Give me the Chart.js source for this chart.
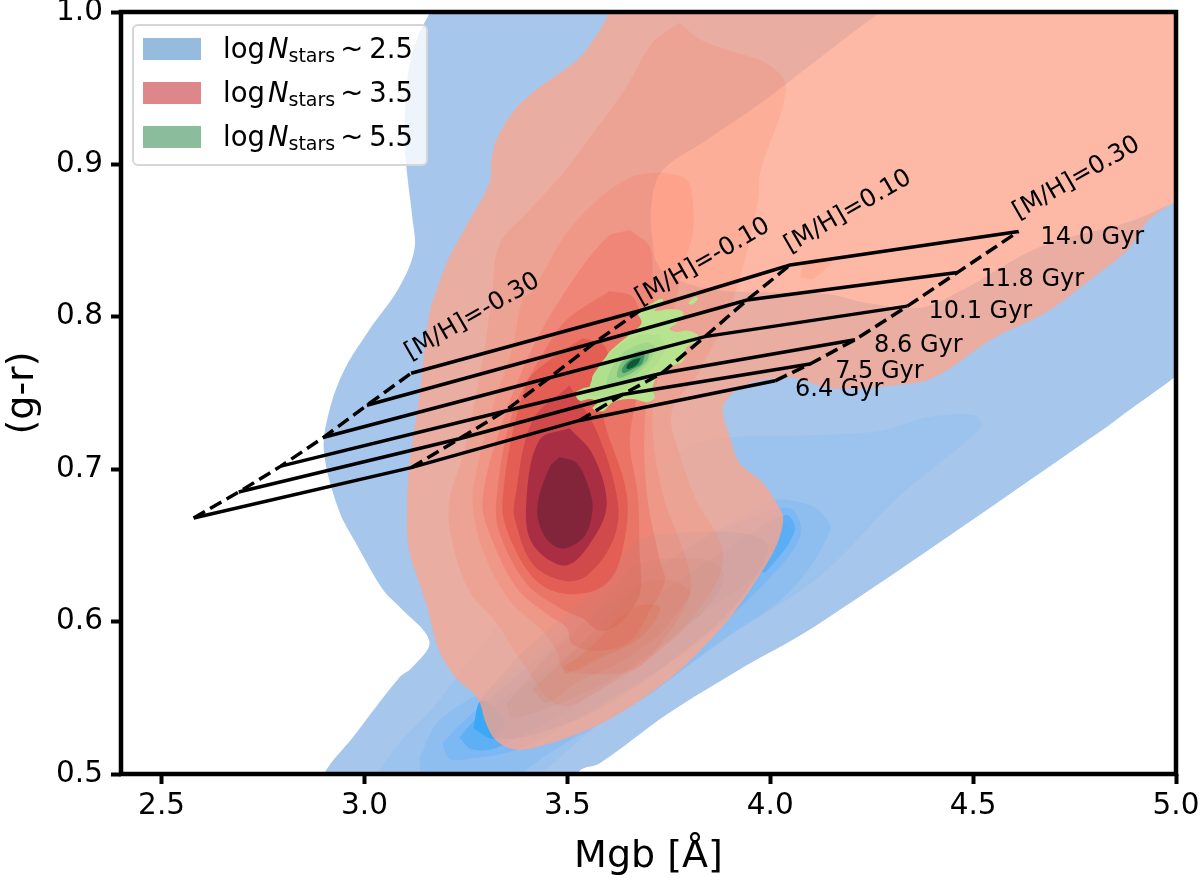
<!DOCTYPE html>
<html>
<head>
<meta charset="utf-8">
<title>Mgb vs g-r</title>
<script src="https://cdn.jsdelivr.net/npm/chart.js@4"></script>
<style>
  html, body { margin: 0; background: #fff; }
  canvas { display: block; }
</style>
</head>
<body>
<canvas id="chart" width="1200" height="880"></canvas>
<script>
// axis ticks
const xTicks = [2.5, 3.0, 3.5, 4.0, 4.5, 5.0];
const yTicks = [0.5, 0.6, 0.7, 0.8, 0.9, 1.0];

// density contours as [Mgb, g-r] outlines, lowest level first
const blueBase = [[3.172,1.008],[3.160,.999],[3.135,.986],[3.110,.964],[3.098,.920],[3.105,.894],[3.118,.865],[3.123,.844],[3.085,.819],[3.011,.791],[2.950,.765],[2.913,.738],[2.900,.712],[2.937,.673],[2.982,.650],[3.048,.620],[3.085,.610],[3.160,.587],[3.118,.570],[3.085,.563],[2.974,.525],[2.900,.500],[2.900,.489],[3.518,.489],[3.530,.502],[3.580,.507],[3.745,.539],[3.908,.566],[4.123,.599],[4.815,.725],[4.881,.738],[4.995,.760],[5.062,.775],[5.062,.883],[4.995,.875],[4.881,.862],[4.666,.846],[4.469,.817],[4.370,.806],[4.239,.809],[4.140,.815],[3.893,.817],[3.794,.822],[3.728,.832],[3.710,.850],[3.708,.876],[3.735,.896],[3.844,.916],[3.975,.940],[4.074,.960],[4.271,1.0],[4.321,1.008]];
const blueLevel2 = [[3.006,.490],[3.085,.520],[3.167,.543],[3.226,.563],[3.382,.614],[3.530,.653],[3.678,.693],[3.802,.715],[3.901,.721],[4.074,.722],[4.271,.725],[4.387,.734],[4.506,.735],[4.518,.727],[4.321,.683],[4.123,.630],[3.908,.592],[3.745,.561],[3.580,.533],[3.357,.490]];
const blueLevel3 = [[3.135,.510],[3.152,.490],[3.308,.490],[3.481,.518],[3.678,.548],[3.876,.587],[4.049,.620],[4.148,.660],[4.128,.671],[4.091,.677],[4.000,.679],[3.827,.653],[3.580,.614],[3.333,.561],[3.184,.535]];
const blueLevel4 = [[3.192,.520],[3.209,.510],[3.258,.510],[3.375,.516],[3.580,.545],[3.827,.587],[3.992,.627],[4.074,.656],[4.056,.673],[4.000,.673],[3.827,.653],[3.580,.607],[3.333,.555],[3.234,.532]];
const blueLevel5 = [[3.234,.524],[3.266,.516],[3.333,.518],[3.580,.555],[3.827,.604],[4.000,.637],[4.061,.660],[4.037,.670],[3.925,.653],[3.703,.614],[3.407,.561],[3.283,.538]];
const blueCoreLow = [[3.268,.530],[3.320,.523],[3.345,.535],[3.288,.548]];
const blueCoreHigh = [[4.037,.665],[4.056,.658],[3.987,.632],[3.980,.637],[4.012,.653]];

const redOuter = [[3.641,1.008],[3.604,.999],[3.580,.988],[3.530,.970],[3.481,.960],[3.414,.947],[3.365,.934],[3.325,.916],[3.313,.903],[3.308,.888],[3.258,.863],[3.209,.839],[3.184,.822],[3.160,.802],[3.135,.747],[3.110,.701],[3.105,.671],[3.110,.647],[3.152,.612],[3.184,.581],[3.226,.563],[3.278,.550],[3.300,.533],[3.325,.522],[3.375,.516],[3.456,.520],[3.597,.535],[3.745,.561],[3.827,.581],[3.908,.605],[3.975,.631],[4.017,.651],[4.032,.668],[4.017,.677],[3.982,.691],[3.925,.704],[3.901,.721],[3.883,.740],[3.908,.750],[3.943,.756],[4.017,.760],[4.056,.760],[4.155,.753],[4.303,.755],[4.402,.760],[4.550,.786],[4.674,.802],[4.797,.826],[4.881,.844],[4.931,.863],[4.995,.875],[5.062,.883],[5.062,1.008]];
const redSpur = [[4.074,.826],[4.106,.825],[4.153,.838],[4.086,.836]];
const redLevel2 = [[3.777,.993],[3.827,.982],[3.908,.974],[3.992,.966],[4.039,.951],[3.975,.894],[3.970,.876],[3.908,.811],[3.827,.765],[3.757,.737],[3.777,.710],[3.819,.679],[3.876,.653],[3.881,.635],[3.827,.609],[3.728,.581],[3.580,.555],[3.481,.545],[3.382,.576],[3.325,.599],[3.258,.620],[3.216,.653],[3.209,.679],[3.246,.712],[3.295,.778],[3.315,.817],[3.333,.848],[3.399,.868],[3.488,.894],[3.562,.920],[3.646,.951],[3.710,.980]];
const redLevel3 = [[3.728,.895],[3.794,.890],[3.809,.876],[3.809,.855],[3.785,.832],[3.748,.784],[3.710,.737],[3.735,.684],[3.794,.640],[3.802,.618],[3.735,.587],[3.661,.568],[3.538,.566],[3.488,.570],[3.473,.581],[3.439,.594],[3.357,.614],[3.291,.647],[3.266,.679],[3.276,.699],[3.315,.740],[3.365,.780],[3.389,.811],[3.414,.817],[3.498,.855],[3.580,.878],[3.661,.892]];
const redLevel4 = [[3.654,.857],[3.703,.846],[3.710,.826],[3.715,.784],[3.691,.732],[3.696,.684],[3.728,.640],[3.740,.627],[3.703,.607],[3.654,.587],[3.580,.581],[3.513,.585],[3.498,.596],[3.449,.605],[3.375,.622],[3.308,.658],[3.291,.679],[3.325,.719],[3.399,.771],[3.481,.811],[3.597,.852]];
const redLevel5 = [[3.604,.817],[3.661,.813],[3.683,.794],[3.678,.758],[3.654,.719],[3.673,.684],[3.678,.647],[3.678,.618],[3.629,.599],[3.580,.594],[3.538,.602],[3.481,.609],[3.399,.625],[3.333,.658],[3.325,.679],[3.365,.737],[3.449,.780],[3.498,.798]];
const redLevel6 = [[3.538,.786],[3.592,.781],[3.604,.758],[3.587,.737],[3.646,.684],[3.636,.647],[3.597,.625],[3.513,.618],[3.431,.625],[3.365,.651],[3.340,.679],[3.399,.756],[3.463,.773]];
const redLevel7 = [[3.505,.755],[3.572,.725],[3.624,.679],[3.612,.653],[3.547,.630],[3.488,.627],[3.414,.638],[3.370,.668],[3.370,.679],[3.414,.732]];
const redLevel8 = [[3.505,.727],[3.562,.710],[3.597,.679],[3.572,.658],[3.498,.637],[3.414,.651],[3.399,.679],[3.431,.719]];
const redLevel9 = [[3.481,.708],[3.523,.704],[3.555,.686],[3.562,.673],[3.542,.656],[3.488,.648],[3.444,.656],[3.426,.675],[3.456,.701]];

// the blue ridge showing through the red fill
const ridgeA = [[3.283,.548],[3.375,.576],[3.498,.605],[3.612,.631],[3.671,.653],[3.777,.658],[3.933,.658],[3.992,.651],[3.982,.638],[3.908,.609],[3.809,.585],[3.661,.556],[3.498,.533],[3.320,.524]];
const ridgeB = [[3.350,.546],[3.439,.574],[3.513,.592],[3.612,.620],[3.678,.638],[3.832,.641],[3.883,.633],[3.869,.618],[3.785,.594],[3.661,.570],[3.498,.548],[3.365,.537]];
const ridgeC = [[3.414,.556],[3.481,.572],[3.597,.602],[3.686,.625],[3.760,.627],[3.802,.620],[3.794,.614],[3.728,.592],[3.622,.572],[3.530,.561],[3.449,.547]];
const ridgeD = [[3.488,.570],[3.547,.581],[3.661,.609],[3.728,.609],[3.678,.589],[3.580,.576],[3.498,.566]];

const greenOuter = [[3.673,.802],[3.691,.806],[3.710,.809],[3.733,.812],[3.735,.809],[3.715,.804],[3.752,.805],[3.782,.804],[3.785,.801],[3.770,.796],[3.752,.792],[3.770,.790],[3.794,.791],[3.822,.788],[3.819,.784],[3.794,.780],[3.785,.771],[3.760,.768],[3.728,.763],[3.710,.754],[3.715,.747],[3.696,.744],[3.661,.746],[3.612,.744],[3.587,.738],[3.562,.740],[3.575,.744],[3.555,.746],[3.530,.745],[3.520,.750],[3.538,.753],[3.560,.755],[3.562,.761],[3.587,.770],[3.604,.777],[3.629,.783],[3.661,.790],[3.683,.796]];
const greenIsland = [[3.797,.809],[3.814,.813],[3.822,.812],[3.807,.808]];
const greenLevel2 = [[3.728,.788],[3.740,.778],[3.678,.758],[3.592,.748],[3.555,.750],[3.572,.765],[3.617,.779],[3.678,.788]];
const greenLevel3 = [[3.715,.781],[3.708,.773],[3.668,.762],[3.617,.755],[3.597,.756],[3.609,.766],[3.641,.777],[3.691,.783]];
const greenLevel4 = [[3.703,.777],[3.696,.771],[3.664,.764],[3.631,.760],[3.622,.761],[3.631,.769],[3.656,.775],[3.683,.778]];
const greenLevel5 = [[3.691,.775],[3.683,.769],[3.664,.766],[3.639,.763],[3.634,.765],[3.646,.770],[3.668,.774]];
const greenLevel6 = [[3.681,.773],[3.673,.769],[3.656,.766],[3.646,.766],[3.649,.769],[3.664,.772]];

// model grid: one row per age, one column per metallicity
const ages = ["6.4 Gyr", "7.5 Gyr", "8.6 Gyr", "10.1 Gyr", "11.8 Gyr", "14.0 Gyr"];
const metallicities = ["[M/H]=-0.30", "[M/H]=-0.10", "[M/H]=0.10", "[M/H]=0.30"];
const gridMgb = [
  [2.579, 3.115, 3.530, 4.012],
  [2.690, 3.234, 3.636, 4.098],
  [2.794, 3.345, 3.733, 4.209],
  [2.900, 3.456, 3.839, 4.338],
  [3.006, 3.567, 3.943, 4.461],
  [3.115, 3.678, 4.049, 4.612],
];
const gridGr = [
  [0.668, 0.701, 0.732, 0.758],
  [0.685, 0.720, 0.749, 0.769],
  [0.702, 0.738, 0.763, 0.785],
  [0.721, 0.760, 0.787, 0.807],
  [0.742, 0.783, 0.811, 0.829],
  [0.763, 0.804, 0.834, 0.856],
];
const ageLabelAt = [[4.061,.752],[4.160,.764],[4.256,.781],[4.390,.803],[4.518,.824],[4.666,.852]];
const metalLabelAt = [[3.266,.800],[3.834,.836],[4.192,.869],[4.755,.891]];

const legendValues = ["2.5", "3.5", "5.5"];
const legendColors = ["#95bcdf", "#dd878b", "#8bbc9c"];

const FONT = '"DejaVu Sans"';

function contour(outline, color) {
  const closed = outline.concat([outline[0]]);
  return {
    type: "line",
    data: closed.map(([x, y]) => ({ x, y })),
    backgroundColor: color,
    borderWidth: 0,
    pointRadius: 0,
    fill: "shape",
    tension: 0.35,
  };
}

function gridLine(xs, ys, dash) {
  return {
    type: "line",
    data: xs.map((x, i) => ({ x, y: ys[i] })),
    borderColor: "#000",
    borderWidth: 3.5,
    borderDash: dash,
    pointRadius: 0,
    fill: false,
    tension: 0,
  };
}

const layers = [
  contour(blueBase, "#a7c6ec"),
  contour(blueLevel2, "#9cc2ee"),
  contour(blueLevel3, "#8ebdf0"),
  contour(blueLevel4, "#7cb8f3"),
  contour(blueLevel5, "#5fafF5"),
  contour(blueCoreLow, "#3ba8f5"),
  contour(blueCoreHigh, "#5aaef6"),
  contour(redOuter, "rgba(252,165,140,0.78)"),
  contour(redSpur, "rgba(255,120,90,0.17)"),
  contour(redLevel2, "rgba(255,120,90,0.17)"),
  contour(redLevel3, "rgba(255,100,75,0.16)"),
  contour(redLevel4, "rgba(240,90,75,0.28)"),
  contour(redLevel5, "rgba(215,60,45,0.22)"),
  contour(redLevel6, "rgba(220,50,50,0.33)"),
  contour(redLevel7, "rgba(195,60,70,0.6)"),
  contour(redLevel8, "rgba(160,40,65,0.8)"),
  contour(redLevel9, "rgba(125,35,58,0.9)"),
  contour(ridgeA, "rgba(140,140,150,0.09)"),
  contour(ridgeB, "rgba(200,125,95,0.10)"),
  contour(ridgeC, "rgba(215,115,80,0.15)"),
  contour(ridgeD, "rgba(225,105,70,0.25)"),
  contour(greenOuter, "#b9e48f"),
  contour(greenIsland, "#b9e48f"),
  contour(greenLevel2, "#b0e08c"),
  contour(greenLevel3, "#a0d789"),
  contour(greenLevel4, "#79c07c"),
  contour(greenLevel5, "#3e9760"),
  contour(greenLevel6, "#0a5a35"),
];

// constant-age lines are solid, constant-metallicity lines dashed
gridMgb.forEach((row, i) => layers.push(gridLine(row, gridGr[i], [])));
metallicities.forEach((_, j) => {
  layers.push(gridLine(gridMgb.map((r) => r[j]), gridGr.map((r) => r[j]), [13, 6]));
});

// later entries paint on top
layers.forEach((ds, i) => { ds.order = layers.length - i; });

// frame, grid labels and the legend box
const annotations = {
  id: "annotations",
  afterDatasetsDraw(chart) {
    const { ctx, chartArea: a, scales: { x, y } } = chart;
    ctx.save();
    ctx.strokeStyle = "#000";
    ctx.lineWidth = 4.5;
    ctx.strokeRect(a.left, a.top, a.right - a.left, a.bottom - a.top);

    ctx.fillStyle = "#000";
    ctx.font = `24px ${FONT}`;
    ctx.textBaseline = "middle";
    ctx.textAlign = "left";
    ages.forEach((label, i) => {
      ctx.fillText(label, x.getPixelForValue(ageLabelAt[i][0]), y.getPixelForValue(ageLabelAt[i][1]));
    });
    ctx.font = `24.5px ${FONT}`;
    ctx.textAlign = "center";
    metallicities.forEach((label, i) => {
      ctx.save();
      ctx.translate(x.getPixelForValue(metalLabelAt[i][0]), y.getPixelForValue(metalLabelAt[i][1]));
      ctx.rotate(-Math.PI / 6);
      ctx.fillText(label, 0, 0);
      ctx.restore();
    });

    // legend
    ctx.beginPath();
    ctx.roundRect(133, 25, 294, 140, 5);
    ctx.fillStyle = "rgba(255,255,255,0.8)";
    ctx.fill();
    ctx.strokeStyle = "#d6d6d6";
    ctx.lineWidth = 2;
    ctx.stroke();
    ctx.textAlign = "left";
    ctx.textBaseline = "alphabetic";
    legendValues.forEach((value, i) => {
      const top = 38 + i * 44;
      const base = top + 20;
      ctx.fillStyle = legendColors[i];
      ctx.fillRect(143, top, 58, 22);
      ctx.fillStyle = "#000";
      let pen = 223;
      ctx.font = `27.5px ${FONT}`;
      ctx.fillText("log", pen, base);
      pen += ctx.measureText("log").width + 3;
      ctx.font = `italic 27.5px ${FONT}`;
      ctx.fillText("N", pen, base);
      pen += ctx.measureText("N").width;
      ctx.font = `19px ${FONT}`;
      ctx.fillText("stars", pen, base + 4);
      pen += ctx.measureText("stars").width + 5;
      ctx.font = `27.5px ${FONT}`;
      ctx.fillText("~", pen, base);
      pen += ctx.measureText("~").width + 6;
      ctx.fillText(value, pen, base);
    });
    ctx.restore();
  },
};

new Chart(document.getElementById("chart"), {
  type: "scatter",
  data: { datasets: layers },
  plugins: [annotations],
  options: {
    responsive: false,
    animation: false,
    layout: { padding: { left: 0, top: 12, right: 24, bottom: 0 } },
    plugins: { legend: { display: false }, tooltip: { enabled: false } },
    scales: {
      x: {
        min: 2.4,
        max: 5.0,
        afterBuildTicks(scale) { scale.ticks = xTicks.map((value) => ({ value })); },
        afterFit(scale) {
          scale.height = 106;
          scale.paddingLeft = 0;
          scale.paddingRight = 0;
        },
        grid: { drawOnChartArea: false, tickLength: 10, tickWidth: 4, tickColor: "#000" },
        border: { display: false },
        ticks: {
          autoSkip: false,
          maxRotation: 0,
          color: "#000",
          padding: 5,
          font: { family: "DejaVu Sans", size: 29.5 },
          callback: (v) => Number(v).toFixed(1),
        },
        title: {
          display: true,
          text: "Mgb [Å]",
          color: "#000",
          font: { family: "DejaVu Sans", size: 38 },
          padding: { top: 2, bottom: 0 },
        },
      },
      y: {
        min: 0.5,
        max: 1.0,
        afterBuildTicks(scale) { scale.ticks = yTicks.map((value) => ({ value })); },
        afterFit(scale) {
          scale.width = 121;
          scale.paddingTop = 0;
          scale.paddingBottom = 0;
        },
        grid: { drawOnChartArea: false, tickLength: 10, tickWidth: 4, tickColor: "#000" },
        border: { display: false },
        ticks: {
          autoSkip: false,
          color: "#000",
          padding: 8,
          font: { family: "DejaVu Sans", size: 29.5 },
          callback: (v) => Number(v).toFixed(1),
        },
        title: {
          display: true,
          text: "(g-r)",
          color: "#000",
          font: { family: "DejaVu Sans", size: 38 },
          padding: { top: 0, bottom: 0 },
        },
      },
    },
  },
});
</script>
</body>
</html>
